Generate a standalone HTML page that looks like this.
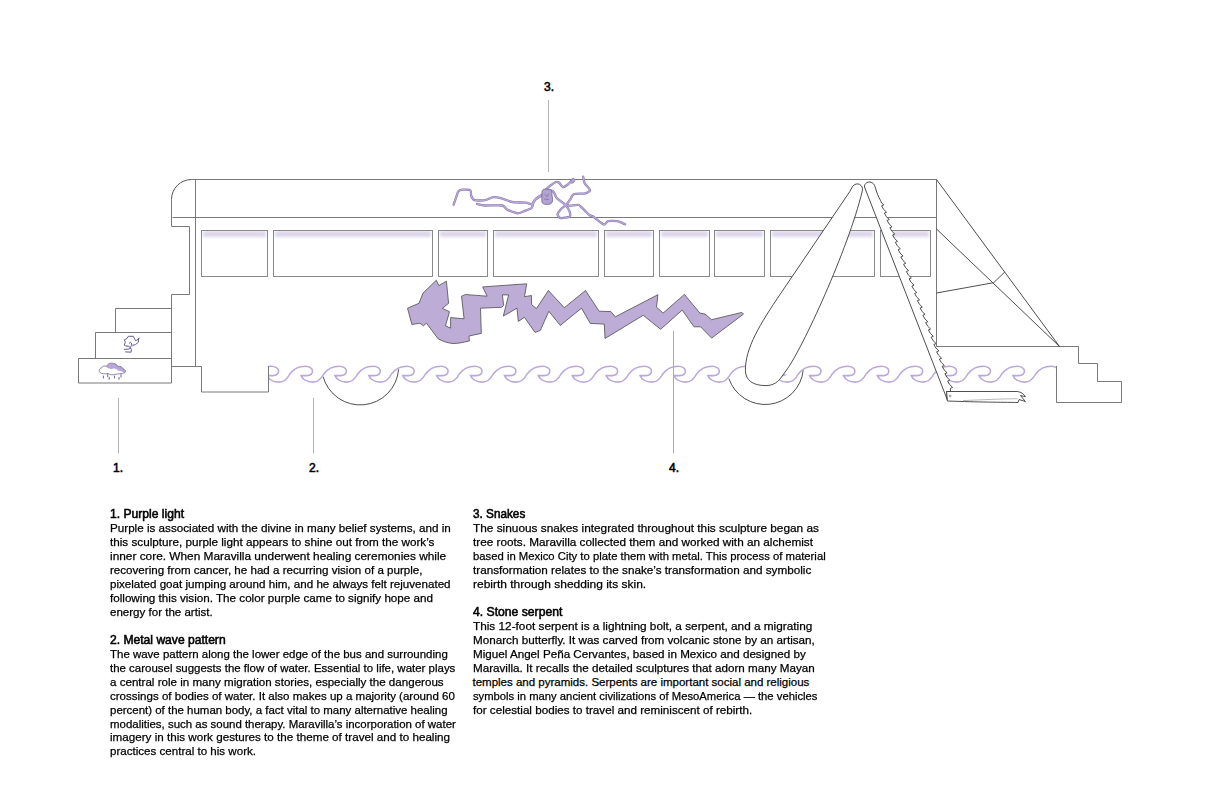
<!DOCTYPE html>
<html><head><meta charset="utf-8"><style>
html,body{margin:0;padding:0;background:#fff;}
body{width:1224px;height:792px;position:relative;overflow:hidden;font-family:"Liberation Sans",sans-serif;color:#000;}
.blk .l span{-webkit-text-stroke:0.25px #000;}
.blk{position:absolute;font-size:11.5px;line-height:13.95px;white-space:nowrap;}
.h{font-weight:normal;font-size:12px;}
.h span{-webkit-text-stroke:0.55px #000;}
.lab{position:absolute;font-size:12px;font-weight:normal;line-height:14px;-webkit-text-stroke:0.55px #000;}
</style></head><body>
<svg width="1224" height="792" viewBox="0 0 1224 792" style="position:absolute;left:0;top:0">
<defs>
<linearGradient id="wg" x1="0" y1="0" x2="0" y2="1">
<stop offset="0" stop-color="#efeaf5"/>
<stop offset="0.35" stop-color="#e2dcec"/>
<stop offset="1" stop-color="#ffffff" stop-opacity="0"/>
</linearGradient>
<filter id="wblur" x="-20%" y="0%" width="140%" height="400%"><feGaussianBlur stdDeviation="1.4"/></filter>
<clipPath id="wclip"><rect x="269" y="355" width="787" height="40"/></clipPath>
</defs>
<g fill="none" stroke="#6a6a6a" stroke-width="0.9">
<!-- label lines -->
<g stroke="#aaa">
<line x1="118.5" y1="398" x2="118.5" y2="453.5"/>
<line x1="313.5" y1="398" x2="313.5" y2="453.5"/>
<line x1="548.5" y1="100" x2="548.5" y2="172"/>
</g>
<!-- bus body -->
<path d="M936.5,179.5 H191.5"/><path stroke="#444" d="M191.5,179.5 A20,20 0 0 0 171.5,199.5"/><path d="M171.5,199.5 V226.5 H189.5 V294.5 H171.5 V383"/>
<line x1="172.5" y1="217.5" x2="936.5" y2="217.5"/>
<path d="M195.5,179.5 V366.5 H201.5 V392 H268.5 V366"/>
<line x1="171.5" y1="366.5" x2="195.5" y2="366.5"/>
<!-- steps -->
<path d="M171.5,308.5 H115.5 V332.5"/>
<path d="M171.5,332.5 H95.5 V358.5"/>
<path d="M171.5,358.5 H78.5 V383 H171.5"/>
<rect x="203.0" y="231" width="63.0" height="6" fill="#ddd6ea" stroke="none" filter="url(#wblur)"/>
<rect x="201.5" y="230.5" width="66.0" height="46" fill="none" stroke="#7c7c7c" stroke-width="0.9"/>
<rect x="275.0" y="231" width="156.0" height="6" fill="#ddd6ea" stroke="none" filter="url(#wblur)"/>
<rect x="273.5" y="230.5" width="159.0" height="46" fill="none" stroke="#7c7c7c" stroke-width="0.9"/>
<rect x="440.0" y="231" width="46.0" height="6" fill="#ddd6ea" stroke="none" filter="url(#wblur)"/>
<rect x="438.5" y="230.5" width="49.0" height="46" fill="none" stroke="#7c7c7c" stroke-width="0.9"/>
<rect x="495.0" y="231" width="102.0" height="6" fill="#ddd6ea" stroke="none" filter="url(#wblur)"/>
<rect x="493.5" y="230.5" width="105.0" height="46" fill="none" stroke="#7c7c7c" stroke-width="0.9"/>
<rect x="606.0" y="231" width="46.0" height="6" fill="#ddd6ea" stroke="none" filter="url(#wblur)"/>
<rect x="604.5" y="230.5" width="49.0" height="46" fill="none" stroke="#7c7c7c" stroke-width="0.9"/>
<rect x="661.0" y="231" width="47.0" height="6" fill="#ddd6ea" stroke="none" filter="url(#wblur)"/>
<rect x="659.5" y="230.5" width="50.0" height="46" fill="none" stroke="#7c7c7c" stroke-width="0.9"/>
<rect x="716.0" y="231" width="47.0" height="6" fill="#ddd6ea" stroke="none" filter="url(#wblur)"/>
<rect x="714.5" y="230.5" width="50.0" height="46" fill="none" stroke="#7c7c7c" stroke-width="0.9"/>
<rect x="772.0" y="231" width="101.0" height="6" fill="#ddd6ea" stroke="none" filter="url(#wblur)"/>
<rect x="770.5" y="230.5" width="104.0" height="46" fill="none" stroke="#7c7c7c" stroke-width="0.9"/>
<rect x="882.0" y="231" width="47.0" height="6" fill="#ddd6ea" stroke="none" filter="url(#wblur)"/>
<rect x="880.5" y="230.5" width="50.0" height="46" fill="none" stroke="#7c7c7c" stroke-width="0.9"/>
<!-- right structure -->
<path d="M936.5,179.5 V346.5 H1078.5 V363.5 H1097.5 V381.5 H1121.5 V402.5 H1056.5 V366"/>
<g stroke="#3a3a3a"><line x1="936.5" y1="179.5" x2="1059.5" y2="346.5"/>
<line x1="936.5" y1="229" x2="1059.5" y2="346.5"/>
<line x1="936.5" y1="293" x2="993.7" y2="282.7"/>
<line x1="993.7" y1="282.7" x2="1004.8" y2="272"/></g>
<!-- wheels -->
<path stroke="#3a3a3a" d="M323.1,376.7 A38.5,38.5 0 0 0 398.6,369.3"/>
<path stroke="#3a3a3a" d="M728.9,378.6 A38.3,38.3 0 0 0 803.2,370.4"/>
</g>
<!-- icons -->
<g fill="none" stroke="#5f5782" stroke-width="0.95" stroke-linejoin="round" stroke-linecap="round">
<path d="M130.6,348.3 L130,346.9 L126.9,346.3 L124.2,345.2 L125.3,342.2 L124.4,339.7 L126.9,338.6 L128.3,336.3 L133.3,336.3 L135.6,340.8 L138,339.4 L139.3,338"/>
<path d="M138.6,338.5 L138.3,342.4 L135.6,344.4 L131.5,345.6 L131.4,343 L130.3,342.3 L129.2,343.3"/>
<path d="M124.2,349.4 L128.3,349.1 L130.6,348.3 L131.4,349.7 L131.1,352.2 L125.6,351.9"/>
</g>
<path d="M124.6,345.3 L130,346.6 L135.6,344.6" fill="none" stroke="#a999d2" stroke-width="1.1"/>
<path d="M100,372.5 C98.5,371.5 99,368.5 101.5,368 C102,366 104.5,365.5 106.5,366.5 C107.5,363.5 111,362.5 113.5,363.5 C116,363.8 117.5,365.2 117.8,366.5 C120,365.8 122.5,367 123,368.8 C125.5,369.3 126.3,371.8 124.5,372.8 C122,373.8 118,373.8 116,374.2 C113,375.2 110,375 108,373.5 C105,374.2 101.5,373.8 100,372.5 Z" fill="#fff" stroke="none"/>
<path d="M106.5,366.8 C107.5,363.5 111,362.5 113.5,363.5 C116,363.8 117.5,365.2 117.8,366.5 C120,365.8 122.5,367 123,368.8 C125.5,369.3 126.3,371.8 124.5,372.8 C122,372 120,370.5 118,370.5 C116,368.5 113,368 111,369.2 C109,368.2 107.5,368.5 106.5,366.8 Z" fill="#b7a5db" stroke="none"/>
<path d="M100,372.5 C98.5,371.5 99,368.5 101.5,368 C102,366 104.5,365.5 106.5,366.5 C107.5,363.5 111,362.5 113.5,363.5 C116,363.8 117.5,365.2 117.8,366.5 C120,365.8 122.5,367 123,368.8 C125.5,369.3 126.3,371.8 124.5,372.8 C122,373.8 118,373.8 116,374.2 C113,375.2 110,375 108,373.5 C105,374.2 101.5,373.8 100,372.5 Z" fill="none" stroke="#6e6690" stroke-width="0.75"/>
<g stroke="#7d70a6" stroke-width="1.1" stroke-linecap="round">
<line x1="103.4" y1="376" x2="103.4" y2="378"/>
<line x1="107.7" y1="374" x2="107.7" y2="376.5"/>
<line x1="109.2" y1="377.4" x2="109.2" y2="379.2"/>
<line x1="114.5" y1="376" x2="114.5" y2="378"/>
<line x1="119" y1="377.5" x2="119" y2="379.3"/>
<line x1="121" y1="374.5" x2="121" y2="377"/>
</g>
<!-- wave -->
<path clip-path="url(#wclip)" d="M233.30,375.6 C234.50,378.5 238.30,382.1 244.90,382.1 C248.80,382.1 252.80,380 255.90,374 C259.30,369.5 263.30,366.25 271.40,366.25 C275.30,366.25 278.60,368.5 278.60,371 C278.60,373.8 276.30,375.6 272.80,375.6 L267.20,375.6 C268.40,378.5 272.20,382.1 278.80,382.1 C282.70,382.1 286.70,380 289.80,374 C293.20,369.5 297.20,366.25 305.30,366.25 C309.20,366.25 312.50,368.5 312.50,371 C312.50,373.8 310.20,375.6 306.70,375.6 L301.10,375.6 C302.30,378.5 306.10,382.1 312.70,382.1 C316.60,382.1 320.60,380 323.70,374 C327.10,369.5 331.10,366.25 339.20,366.25 C343.10,366.25 346.40,368.5 346.40,371 C346.40,373.8 344.10,375.6 340.60,375.6 L335.00,375.6 C336.20,378.5 340.00,382.1 346.60,382.1 C350.50,382.1 354.50,380 357.60,374 C361.00,369.5 365.00,366.25 373.10,366.25 C377.00,366.25 380.30,368.5 380.30,371 C380.30,373.8 378.00,375.6 374.50,375.6 L368.90,375.6 C370.10,378.5 373.90,382.1 380.50,382.1 C384.40,382.1 388.40,380 391.50,374 C394.90,369.5 398.90,366.25 407.00,366.25 C410.90,366.25 414.20,368.5 414.20,371 C414.20,373.8 411.90,375.6 408.40,375.6 L402.80,375.6 C404.00,378.5 407.80,382.1 414.40,382.1 C418.30,382.1 422.30,380 425.40,374 C428.80,369.5 432.80,366.25 440.90,366.25 C444.80,366.25 448.10,368.5 448.10,371 C448.10,373.8 445.80,375.6 442.30,375.6 L436.70,375.6 C437.90,378.5 441.70,382.1 448.30,382.1 C452.20,382.1 456.20,380 459.30,374 C462.70,369.5 466.70,366.25 474.80,366.25 C478.70,366.25 482.00,368.5 482.00,371 C482.00,373.8 479.70,375.6 476.20,375.6 L470.60,375.6 C471.80,378.5 475.60,382.1 482.20,382.1 C486.10,382.1 490.10,380 493.20,374 C496.60,369.5 500.60,366.25 508.70,366.25 C512.60,366.25 515.90,368.5 515.90,371 C515.90,373.8 513.60,375.6 510.10,375.6 L504.50,375.6 C505.70,378.5 509.50,382.1 516.10,382.1 C520.00,382.1 524.00,380 527.10,374 C530.50,369.5 534.50,366.25 542.60,366.25 C546.50,366.25 549.80,368.5 549.80,371 C549.80,373.8 547.50,375.6 544.00,375.6 L538.40,375.6 C539.60,378.5 543.40,382.1 550.00,382.1 C553.90,382.1 557.90,380 561.00,374 C564.40,369.5 568.40,366.25 576.50,366.25 C580.40,366.25 583.70,368.5 583.70,371 C583.70,373.8 581.40,375.6 577.90,375.6 L572.30,375.6 C573.50,378.5 577.30,382.1 583.90,382.1 C587.80,382.1 591.80,380 594.90,374 C598.30,369.5 602.30,366.25 610.40,366.25 C614.30,366.25 617.60,368.5 617.60,371 C617.60,373.8 615.30,375.6 611.80,375.6 L606.20,375.6 C607.40,378.5 611.20,382.1 617.80,382.1 C621.70,382.1 625.70,380 628.80,374 C632.20,369.5 636.20,366.25 644.30,366.25 C648.20,366.25 651.50,368.5 651.50,371 C651.50,373.8 649.20,375.6 645.70,375.6 L640.10,375.6 C641.30,378.5 645.10,382.1 651.70,382.1 C655.60,382.1 659.60,380 662.70,374 C666.10,369.5 670.10,366.25 678.20,366.25 C682.10,366.25 685.40,368.5 685.40,371 C685.40,373.8 683.10,375.6 679.60,375.6 L674.00,375.6 C675.20,378.5 679.00,382.1 685.60,382.1 C689.50,382.1 693.50,380 696.60,374 C700.00,369.5 704.00,366.25 712.10,366.25 C716.00,366.25 719.30,368.5 719.30,371 C719.30,373.8 717.00,375.6 713.50,375.6 L707.90,375.6 C709.10,378.5 712.90,382.1 719.50,382.1 C723.40,382.1 727.40,380 730.50,374 C733.90,369.5 737.90,366.25 746.00,366.25 C749.90,366.25 753.20,368.5 753.20,371 C753.20,373.8 750.90,375.6 747.40,375.6 L741.80,375.6 C743.00,378.5 746.80,382.1 753.40,382.1 C757.30,382.1 761.30,380 764.40,374 C767.80,369.5 771.80,366.25 779.90,366.25 C783.80,366.25 787.10,368.5 787.10,371 C787.10,373.8 784.80,375.6 781.30,375.6 L775.70,375.6 C776.90,378.5 780.70,382.1 787.30,382.1 C791.20,382.1 795.20,380 798.30,374 C801.70,369.5 805.70,366.25 813.80,366.25 C817.70,366.25 821.00,368.5 821.00,371 C821.00,373.8 818.70,375.6 815.20,375.6 L809.60,375.6 C810.80,378.5 814.60,382.1 821.20,382.1 C825.10,382.1 829.10,380 832.20,374 C835.60,369.5 839.60,366.25 847.70,366.25 C851.60,366.25 854.90,368.5 854.90,371 C854.90,373.8 852.60,375.6 849.10,375.6 L843.50,375.6 C844.70,378.5 848.50,382.1 855.10,382.1 C859.00,382.1 863.00,380 866.10,374 C869.50,369.5 873.50,366.25 881.60,366.25 C885.50,366.25 888.80,368.5 888.80,371 C888.80,373.8 886.50,375.6 883.00,375.6 L877.40,375.6 C878.60,378.5 882.40,382.1 889.00,382.1 C892.90,382.1 896.90,380 900.00,374 C903.40,369.5 907.40,366.25 915.50,366.25 C919.40,366.25 922.70,368.5 922.70,371 C922.70,373.8 920.40,375.6 916.90,375.6 L911.30,375.6 C912.50,378.5 916.30,382.1 922.90,382.1 C926.80,382.1 930.80,380 933.90,374 C937.30,369.5 941.30,366.25 949.40,366.25 C953.30,366.25 956.60,368.5 956.60,371 C956.60,373.8 954.30,375.6 950.80,375.6 L945.20,375.6 C946.40,378.5 950.20,382.1 956.80,382.1 C960.70,382.1 964.70,380 967.80,374 C971.20,369.5 975.20,366.25 983.30,366.25 C987.20,366.25 990.50,368.5 990.50,371 C990.50,373.8 988.20,375.6 984.70,375.6 L979.10,375.6 C980.30,378.5 984.10,382.1 990.70,382.1 C994.60,382.1 998.60,380 1001.70,374 C1005.10,369.5 1009.10,366.25 1017.20,366.25 C1021.10,366.25 1024.40,368.5 1024.40,371 C1024.40,373.8 1022.10,375.6 1018.60,375.6 L1013.00,375.6 C1014.20,378.5 1018.00,382.1 1024.60,382.1 C1028.50,382.1 1032.50,380 1035.60,374 C1039.00,369.5 1043.00,366.25 1051.10,366.25 C1055.00,366.25 1058.30,368.5 1058.30,371 C1058.30,373.8 1056.00,375.6 1052.50,375.6 L1046.90,375.6 C1048.10,378.5 1051.90,382.1 1058.50,382.1 C1062.40,382.1 1066.40,380 1069.50,374 C1072.90,369.5 1076.90,366.25 1085.00,366.25 C1088.90,366.25 1092.20,368.5 1092.20,371 C1092.20,373.8 1089.90,375.6 1086.40,375.6 L1080.80,375.6" fill="none" stroke="#bba8da" stroke-width="1.6"/>
<rect x="1041" y="372" width="14.9" height="12" fill="#fff"/>
<rect x="1049" y="369.3" width="6.9" height="4" fill="#fff"/>
<!-- label line 4 over wave -->
<line x1="673.5" y1="331" x2="673.5" y2="453.5" stroke="#aaa" stroke-width="1"/>
<!-- serpent -->
<rect x="738.5" y="372.5" width="14" height="12" fill="#fff"/>
<rect x="785" y="366.5" width="5" height="8" fill="#fff"/>
<path d="M849.7,191.7 L781,293 C760,324 745.2,348 745.4,370.5 C745.6,380.5 753,385.6 766,385.6 C772,385.5 776.5,383.3 780.2,378.8 L786.6,370 C802,349 848,250 862.3,191 C863.8,185 857,181 852.5,186.5 Z" fill="#fff" stroke="#3a3a3a" stroke-width="0.9"/>
<!-- saw blade -->
<path d="M864.5,187 C864,183.5 867.5,181.8 870,182 C873,182.3 874.5,184.5 875.5,188 C876.5,192 878,196 880.5,200.5 Q881.15,203.30 883.80,204.90 L881.60,205.80 Q883.08,209.60 886.55,212.20 L884.35,213.10 Q885.83,216.90 889.30,219.50 L887.10,220.40 Q888.58,224.20 892.06,226.80 L889.86,227.70 Q891.33,231.50 894.81,234.10 L892.61,235.00 Q894.08,238.80 897.56,241.40 L895.36,242.30 Q896.84,246.10 900.31,248.70 L898.11,249.60 Q899.59,253.40 903.06,256.00 L900.86,256.90 Q902.34,260.70 905.82,263.30 L903.62,264.20 Q905.09,268.00 908.57,270.60 L906.37,271.50 Q907.84,275.30 911.32,277.90 L909.12,278.80 Q910.60,282.60 914.07,285.20 L911.87,286.10 Q913.35,289.90 916.83,292.50 L914.63,293.40 Q916.10,297.20 919.58,299.80 L917.38,300.70 Q918.85,304.50 922.33,307.10 L920.13,308.00 Q921.61,311.80 925.08,314.40 L922.88,315.30 Q924.36,319.10 927.83,321.70 L925.63,322.60 Q927.11,326.40 930.59,329.00 L928.39,329.90 Q929.86,333.70 933.34,336.30 L931.14,337.20 Q932.61,341.00 936.09,343.60 L933.89,344.50 Q935.37,348.30 938.84,350.90 L936.64,351.80 Q938.12,355.60 941.59,358.20 L939.39,359.10 Q940.87,362.90 944.35,365.50 L942.15,366.40 Q943.62,370.20 947.10,372.80 L944.90,373.70 Q946.37,377.50 949.85,380.10 L947.65,381.00 Q949.13,384.80 952.60,387.40 L950.40,388.30 L950.5,391.5 L946.6,391.5 L947.4,400 Z" fill="#fff" stroke="#3a3a3a" stroke-width="0.9" stroke-linejoin="miter"/>
<!-- handle -->
<path d="M946.6,391.5 H1017.6 C1021,392 1024.5,394.5 1025.4,396.7 L1020.5,395.5 L1025.4,401.5 L1019,399.5 L1018,402.5 C1000,402.2 980,402.2 947.4,401 Z" fill="#fff" stroke="#3a3a3a" stroke-width="0.9"/>
<circle cx="950.1" cy="395.9" r="0.9" fill="none" stroke="#555" stroke-width="0.6"/>
<path d="M963,400.6 C985,399.6 1000,398.9 1017.6,398.7" fill="none" stroke="#888" stroke-width="0.6"/>
<!-- lightning serpent -->
<path d="M436.3,280.3 L438.9,285.6 L446.4,281.2 L448.6,303.3 L442.3,308.4 L449.5,311.7 L445.5,325.8 L450.6,328.1 L450.6,317.6 L464.1,318.8 L461.5,296.2 L465.4,294.5 L487.1,296.2 L482.7,286.9 L526.7,283.8 L524.5,296.7 L531.4,295.5 L531.6,304.6 L536.4,308.6 L548.4,290.5 L564.3,307.7 L585.5,290.5 L599.1,311.2 L610.9,311.6 L615.3,316.8 L657.9,294.7 L656.5,307.2 L663.1,313.1 L684.4,294.4 L699.9,313.1 L705,314.1 L711.6,319.7 L741.8,312.4 L743.5,314.1 L711.6,338.1 L700.6,326.8 L694,326.8 L682.2,310.1 L660.6,329.3 L643.2,315.3 L605,338.5 L604.3,324.1 L590.3,323.4 L581.5,308.2 L560.3,325.4 L548.8,311.3 L540.4,330.3 L535.1,332.5 L524.5,317.4 L518.3,321.4 L517,308.2 L503.3,316.1 L508.6,294.9 L502.4,294.9 L503.7,305.5 L501.5,307.3 L480.5,308.2 L481.3,333.4 L469,336 L469.4,340.9 C463,342.5 458,343.5 453,343.5 C447,343 442,341 438,338.7 L426.5,323.2 L423.4,325.8 L419.9,323.2 L411.9,324.5 L407.5,308.2 L419,303.3 L423,293.1 Z" fill="#bdadd6" stroke="#4d4d4d" stroke-width="0.8" stroke-linejoin="miter"/>
<!-- snakes -->
<g fill="none" stroke-linecap="round" stroke-linejoin="round">
<g stroke="#8a7bad" stroke-width="2.3"><path d="M453.70,204.70 C454.15,203.39 457.34,193.11 458.20,191.60 C459.06,190.09 461.08,189.72 462.30,189.60 C463.52,189.48 469.51,189.79 470.40,190.40 C471.29,191.01 470.79,194.72 471.20,195.70 C471.61,196.68 473.11,199.75 474.50,200.20 C475.89,200.65 483.30,200.49 485.10,200.20 C486.90,199.91 490.94,197.51 492.50,197.30 C494.06,197.09 498.66,197.61 500.70,198.10 C502.74,198.59 510.37,201.75 512.90,202.20 C515.43,202.65 524.12,202.39 526.00,202.60 C527.88,202.81 530.80,204.58 531.70,204.30 C532.60,204.02 534.02,200.66 535.00,199.80 C535.98,198.94 540.85,196.11 541.50,195.70"/><path d="M477.00,203.90 C477.73,204.06 481.77,205.34 484.30,205.50 C486.83,205.66 500.01,205.09 502.30,205.50 C504.59,205.91 505.65,208.82 507.20,209.60 C508.75,210.38 515.92,213.22 517.80,213.30 C519.68,213.38 524.61,210.93 526.00,210.40 C527.39,209.87 530.97,208.74 531.70,208.00 C532.43,207.26 532.89,203.90 533.30,203.00 C533.71,202.10 534.98,199.80 535.80,199.00 C536.62,198.20 540.93,195.40 541.50,195.00"/><path d="M545.90,189.40 C546.36,189.01 549.49,186.24 550.50,185.50 C551.51,184.76 555.14,182.27 556.00,182.00 C556.86,181.73 558.40,182.29 559.10,182.80 C559.80,183.31 562.15,186.90 563.00,187.10 C563.85,187.30 566.83,185.35 567.60,184.80 C568.37,184.25 570.16,182.19 570.70,181.60 C571.24,181.01 572.77,179.17 573.00,178.90"/><path d="M583.10,176.60 C583.26,177.26 584.00,181.84 584.70,183.20 C585.40,184.56 590.02,189.19 590.10,190.20 C590.18,191.21 587.13,192.91 585.50,193.30 C583.87,193.69 575.28,193.56 573.80,194.10 C572.32,194.64 571.47,197.62 570.70,198.70 C569.93,199.78 567.03,203.89 566.10,204.90 C565.17,205.91 562.26,207.86 561.40,208.80 C560.54,209.74 557.58,213.37 557.50,214.30 C557.42,215.23 559.36,217.87 560.60,218.10 C561.84,218.33 569.04,217.37 569.90,216.60 C570.76,215.83 569.74,211.64 569.20,210.40 C568.66,209.16 565.75,205.44 564.50,204.20 C563.25,202.96 557.79,199.25 556.70,198.00 C555.61,196.75 554.29,192.48 553.60,191.70 C552.91,190.92 550.18,190.35 549.80,190.20"/><path d="M566.10,204.90 C566.56,204.98 569.46,205.70 570.70,205.70 C571.94,205.70 577.10,204.43 578.50,204.90 C579.90,205.37 583.62,209.39 584.70,210.40 C585.78,211.41 588.45,214.38 589.30,215.00 C590.15,215.62 592.42,216.13 593.20,216.60 C593.98,217.07 596.01,218.89 597.10,219.70 C598.19,220.51 603.01,224.55 604.10,224.70 C605.19,224.85 606.68,221.55 608.00,221.20 C609.32,220.85 615.59,220.89 617.30,221.20 C619.01,221.51 624.32,223.99 625.10,224.30"/></g>
<g stroke="#b9a9d9" stroke-width="1.2"><path d="M453.70,204.70 C454.15,203.39 457.34,193.11 458.20,191.60 C459.06,190.09 461.08,189.72 462.30,189.60 C463.52,189.48 469.51,189.79 470.40,190.40 C471.29,191.01 470.79,194.72 471.20,195.70 C471.61,196.68 473.11,199.75 474.50,200.20 C475.89,200.65 483.30,200.49 485.10,200.20 C486.90,199.91 490.94,197.51 492.50,197.30 C494.06,197.09 498.66,197.61 500.70,198.10 C502.74,198.59 510.37,201.75 512.90,202.20 C515.43,202.65 524.12,202.39 526.00,202.60 C527.88,202.81 530.80,204.58 531.70,204.30 C532.60,204.02 534.02,200.66 535.00,199.80 C535.98,198.94 540.85,196.11 541.50,195.70"/><path d="M477.00,203.90 C477.73,204.06 481.77,205.34 484.30,205.50 C486.83,205.66 500.01,205.09 502.30,205.50 C504.59,205.91 505.65,208.82 507.20,209.60 C508.75,210.38 515.92,213.22 517.80,213.30 C519.68,213.38 524.61,210.93 526.00,210.40 C527.39,209.87 530.97,208.74 531.70,208.00 C532.43,207.26 532.89,203.90 533.30,203.00 C533.71,202.10 534.98,199.80 535.80,199.00 C536.62,198.20 540.93,195.40 541.50,195.00"/><path d="M545.90,189.40 C546.36,189.01 549.49,186.24 550.50,185.50 C551.51,184.76 555.14,182.27 556.00,182.00 C556.86,181.73 558.40,182.29 559.10,182.80 C559.80,183.31 562.15,186.90 563.00,187.10 C563.85,187.30 566.83,185.35 567.60,184.80 C568.37,184.25 570.16,182.19 570.70,181.60 C571.24,181.01 572.77,179.17 573.00,178.90"/><path d="M583.10,176.60 C583.26,177.26 584.00,181.84 584.70,183.20 C585.40,184.56 590.02,189.19 590.10,190.20 C590.18,191.21 587.13,192.91 585.50,193.30 C583.87,193.69 575.28,193.56 573.80,194.10 C572.32,194.64 571.47,197.62 570.70,198.70 C569.93,199.78 567.03,203.89 566.10,204.90 C565.17,205.91 562.26,207.86 561.40,208.80 C560.54,209.74 557.58,213.37 557.50,214.30 C557.42,215.23 559.36,217.87 560.60,218.10 C561.84,218.33 569.04,217.37 569.90,216.60 C570.76,215.83 569.74,211.64 569.20,210.40 C568.66,209.16 565.75,205.44 564.50,204.20 C563.25,202.96 557.79,199.25 556.70,198.00 C555.61,196.75 554.29,192.48 553.60,191.70 C552.91,190.92 550.18,190.35 549.80,190.20"/><path d="M566.10,204.90 C566.56,204.98 569.46,205.70 570.70,205.70 C571.94,205.70 577.10,204.43 578.50,204.90 C579.90,205.37 583.62,209.39 584.70,210.40 C585.78,211.41 588.45,214.38 589.30,215.00 C590.15,215.62 592.42,216.13 593.20,216.60 C593.98,217.07 596.01,218.89 597.10,219.70 C598.19,220.51 603.01,224.55 604.10,224.70 C605.19,224.85 606.68,221.55 608.00,221.20 C609.32,220.85 615.59,220.89 617.30,221.20 C619.01,221.51 624.32,223.99 625.10,224.30"/></g>
</g>
<path d="M542,192 C542,189 545,188.8 547,189.3 C550,188.8 552.3,190 552,193 C551.5,195 553,198 552.5,201 C552,204 549,204.6 546.5,204.4 C543,204.5 541.5,203 541.8,200 C542,197 541.8,195 542,192 Z" fill="#b3a3d3" stroke="#6e6290" stroke-width="0.8"/>
<path d="M544.5,194 L547,196.5 M549,193.5 L546.5,197 M544,199 L549,199.5" stroke="#6f6290" stroke-width="0.6" fill="none"/>
<path d="M571,181 C572,178.5 574.5,178 575,179.5 C575.5,181 573.5,183.5 571.5,183.5 Z" fill="#b3a3d3" stroke="#8f80b3" stroke-width="0.6"/>
</svg>
<div class="lab" style="left:113px;top:461px">1.</div>
<div class="lab" style="left:309px;top:461px">2.</div>
<div class="lab" style="left:544px;top:79.5px">3.</div>
<div class="lab" style="left:669px;top:461px">4.</div>
<div class="blk" style="left:110px;top:508.2px"><div class="h" id="b1_0"><span style="display:inline-block;transform:scaleX(1.0095);transform-origin:0 0">1. Purple light</span></div><div class="l" id="b1_1"><span style="display:inline-block;transform:scaleX(1.0137);transform-origin:0 0">Purple is associated with the divine in many belief systems, and in</span></div><div class="l" id="b1_2"><span style="display:inline-block;transform:scaleX(1.0179);transform-origin:0 0">this sculpture, purple light appears to shine out from the work’s</span></div><div class="l" id="b1_3"><span style="display:inline-block;transform:scaleX(1.0313);transform-origin:0 0">inner core. When Maravilla underwent healing ceremonies while</span></div><div class="l" id="b1_4"><span style="display:inline-block;transform:scaleX(1.0081);transform-origin:0 0">recovering from cancer, he had a recurring vision of a purple,</span></div><div class="l" id="b1_5"><span style="display:inline-block;transform:scaleX(1.0089);transform-origin:0 0">pixelated goat jumping around him, and he always felt rejuvenated</span></div><div class="l" id="b1_6"><span style="display:inline-block;transform:scaleX(1.0132);transform-origin:0 0">following this vision. The color purple came to signify hope and</span></div><div class="l" id="b1_7"><span style="display:inline-block;transform:scaleX(1.0039);transform-origin:0 0">energy for the artist.</span></div></div><div class="blk" style="left:110px;top:633.8px"><div class="h" id="b2_0"><span style="display:inline-block;transform:scaleX(1.0078);transform-origin:0 0">2. Metal wave pattern</span></div><div class="l" id="b2_1"><span style="display:inline-block;transform:scaleX(0.9968);transform-origin:0 0">The wave pattern along the lower edge of the bus and surrounding</span></div><div class="l" id="b2_2"><span style="display:inline-block;transform:scaleX(0.9968);transform-origin:0 0">the carousel suggests the flow of water. Essential to life, water plays</span></div><div class="l" id="b2_3"><span style="display:inline-block;transform:scaleX(1.0076);transform-origin:0 0">a central role in many migration stories, especially the dangerous</span></div><div class="l" id="b2_4"><span style="display:inline-block;transform:scaleX(1.0029);transform-origin:0 0">crossings of bodies of water. It also makes up a majority (around 60</span></div><div class="l" id="b2_5"><span style="display:inline-block;transform:scaleX(0.9970);transform-origin:0 0">percent) of the human body, a fact vital to many alternative healing</span></div><div class="l" id="b2_6"><span style="display:inline-block;transform:scaleX(0.9957);transform-origin:0 0">modalities, such as sound therapy. Maravilla’s incorporation of water</span></div><div class="l" id="b2_7"><span style="display:inline-block;transform:scaleX(1.0131);transform-origin:0 0">imagery in this work gestures to the theme of travel and to healing</span></div><div class="l" id="b2_8"><span style="display:inline-block;transform:scaleX(1.0062);transform-origin:0 0">practices central to his work.</span></div></div><div class="blk" style="left:472.5px;top:508.2px"><div class="h" id="b3_0"><span style="display:inline-block;transform:scaleX(0.9794);transform-origin:0 0">3. Snakes</span></div><div class="l" id="b3_1"><span style="display:inline-block;transform:scaleX(1.0288);transform-origin:0 0">The sinuous snakes integrated throughout this sculpture began as</span></div><div class="l" id="b3_2"><span style="display:inline-block;transform:scaleX(1.0229);transform-origin:0 0">tree roots. Maravilla collected them and worked with an alchemist</span></div><div class="l" id="b3_3"><span style="display:inline-block;transform:scaleX(0.9824);transform-origin:0 0">based in Mexico City to plate them with metal. This process of material</span></div><div class="l" id="b3_4"><span style="display:inline-block;transform:scaleX(1.0183);transform-origin:0 0">transformation relates to the snake’s transformation and symbolic</span></div><div class="l" id="b3_5"><span style="display:inline-block;transform:scaleX(1.0417);transform-origin:0 0">rebirth through shedding its skin.</span></div></div><div class="blk" style="left:472.5px;top:605.9px"><div class="h" id="b4_0"><span style="display:inline-block;transform:scaleX(1.0147);transform-origin:0 0">4. Stone serpent</span></div><div class="l" id="b4_1"><span style="display:inline-block;transform:scaleX(1.0245);transform-origin:0 0">This 12-foot serpent is a lightning bolt, a serpent, and a migrating</span></div><div class="l" id="b4_2"><span style="display:inline-block;transform:scaleX(1.0155);transform-origin:0 0">Monarch butterfly. It was carved from volcanic stone by an artisan,</span></div><div class="l" id="b4_3"><span style="display:inline-block;transform:scaleX(1.0125);transform-origin:0 0">Miguel Angel Peña Cervantes, based in Mexico and designed by</span></div><div class="l" id="b4_4"><span style="display:inline-block;transform:scaleX(1.0124);transform-origin:0 0">Maravilla. It recalls the detailed sculptures that adorn many Mayan</span></div><div class="l" id="b4_5"><span style="display:inline-block;transform:scaleX(1.0000);transform-origin:0 0">temples and pyramids. Serpents are important social and religious</span></div><div class="l" id="b4_6"><span style="display:inline-block;transform:scaleX(0.9779);transform-origin:0 0">symbols in many ancient civilizations of MesoAmerica — the vehicles</span></div><div class="l" id="b4_7"><span style="display:inline-block;transform:scaleX(1.0135);transform-origin:0 0">for celestial bodies to travel and reminiscent of rebirth.</span></div></div>
</body></html>
